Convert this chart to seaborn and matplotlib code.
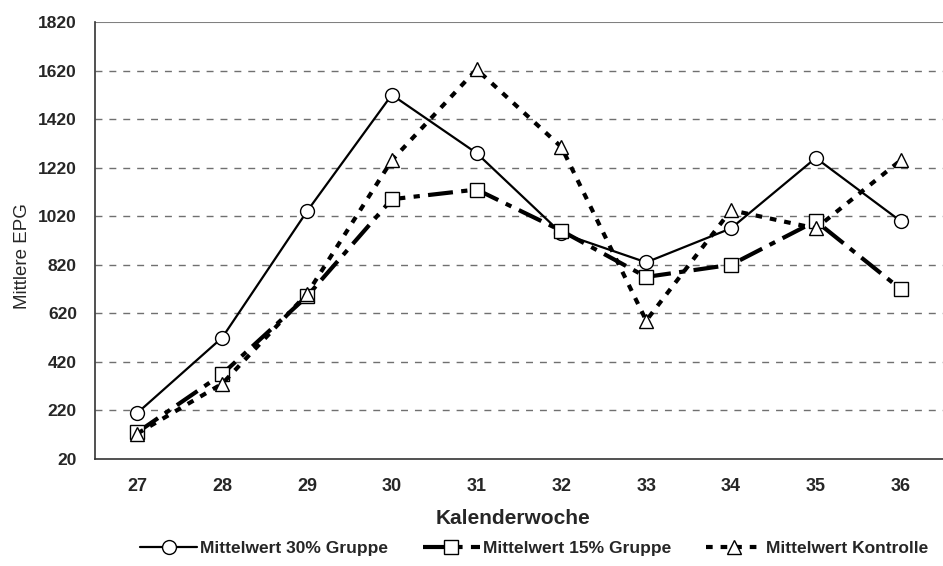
import numpy as np
import pandas as pd
import matplotlib
matplotlib.use("Agg")
import matplotlib.pyplot as plt
from matplotlib.lines import Line2D
import seaborn as sns

weeks = ["27", "28", "29", "30", "31", "32", "33", "34", "35", "36"]
mw_30 = [210, 520, 1040, 1520, 1280, 950, 830, 970, 1260, 1000]
mw_15 = [130, 370, 690, 1090, 1130, 960, 770, 820, 1000, 720]
kontrolle = [125, 330, 700, 1250, 1625, 1305, 590, 1045, 970, 1250]

labels = ["Mittelwert 30% Gruppe", "Mittelwert 15% Gruppe", "Mittelwert Kontrolle"]
yticks = list(range(20, 1821, 200))

sns.set_style("white")
plt.rcParams["font.family"] = ["Liberation Sans", "DejaVu Sans"]

fig = plt.figure(figsize=(9.43, 5.66), dpi=100)
ax = fig.add_axes([95 / 943, 107 / 566, 848 / 943, 437 / 566])

x = np.arange(len(weeks))
styles = [
    dict(marker="o", linestyle="-", lw=1.6),
    dict(marker="s", linestyle=(0, (6, 2, 1.5, 2)), lw=3),
    dict(marker="^", linestyle=(0, (1.6, 1.9)), lw=3),
]
series = [mw_30, mw_15, kontrolle]

for vals, st, lab in zip(series, styles, labels):
    sns.lineplot(x=x, y=vals, ax=ax, color="black", marker=st["marker"],
                 linestyle=st["linestyle"], linewidth=st["lw"],
                 markersize=10, markerfacecolor="white", markeredgecolor="black",
                 markeredgewidth=1, label=lab, zorder=3)

ax.set_xlim(-0.5, 9.36)
ax.set_ylim(20, 1820)
ax.set_yticks(yticks)
ax.set_yticklabels([str(v) for v in yticks], fontweight="bold", fontsize=12.5)
ax.set_xticks(np.arange(-0.5, 10, 1))
ax.set_xticklabels([])
ax.set_xticks(x, minor=True)
ax.set_xticklabels(weeks, minor=True, fontweight="bold", fontsize=13)
ax.tick_params(axis="x", which="major", length=5, width=1, color="#333333", direction="out")
ax.tick_params(axis="x", which="minor", length=0, pad=14)
ax.tick_params(axis="y", length=5, width=1, color="#333333", direction="out", pad=8)

for yv in yticks[1:-1]:
    ax.axhline(yv, color="#707070", lw=1, linestyle=(0, (5, 5)), zorder=1)
ax.axhline(1820, color="#808080", lw=1.5, zorder=1)

for s in ["right", "top"]:
    ax.spines[s].set_visible(False)
for s in ["left", "bottom"]:
    ax.spines[s].set_color("#333333")
    ax.spines[s].set_linewidth(1.2)

ax.set_xlabel("Kalenderwoche", fontweight="bold", fontsize=15)
ax.xaxis.set_label_coords(0.493, -0.115)
ax.set_ylabel("Mittlere EPG", fontsize=13.5)
ax.yaxis.set_label_coords(-0.076, 0.465)

ax.get_legend().remove()
handles = [Line2D([], [], color="black", marker=st["marker"], linestyle=st["linestyle"],
                  linewidth=st["lw"], markersize=10, markerfacecolor="white",
                  markeredgecolor="black", markeredgewidth=1) for st in styles]
fig.legend(handles, labels, loc="center", bbox_to_anchor=(534 / 943, 1 - 548 / 566),
           ncol=3, frameon=False, prop=dict(weight="bold", size=12.5),
           handlelength=3.3, handletextpad=0.15, columnspacing=2.0)

fig.savefig("out.png", dpi=100)
